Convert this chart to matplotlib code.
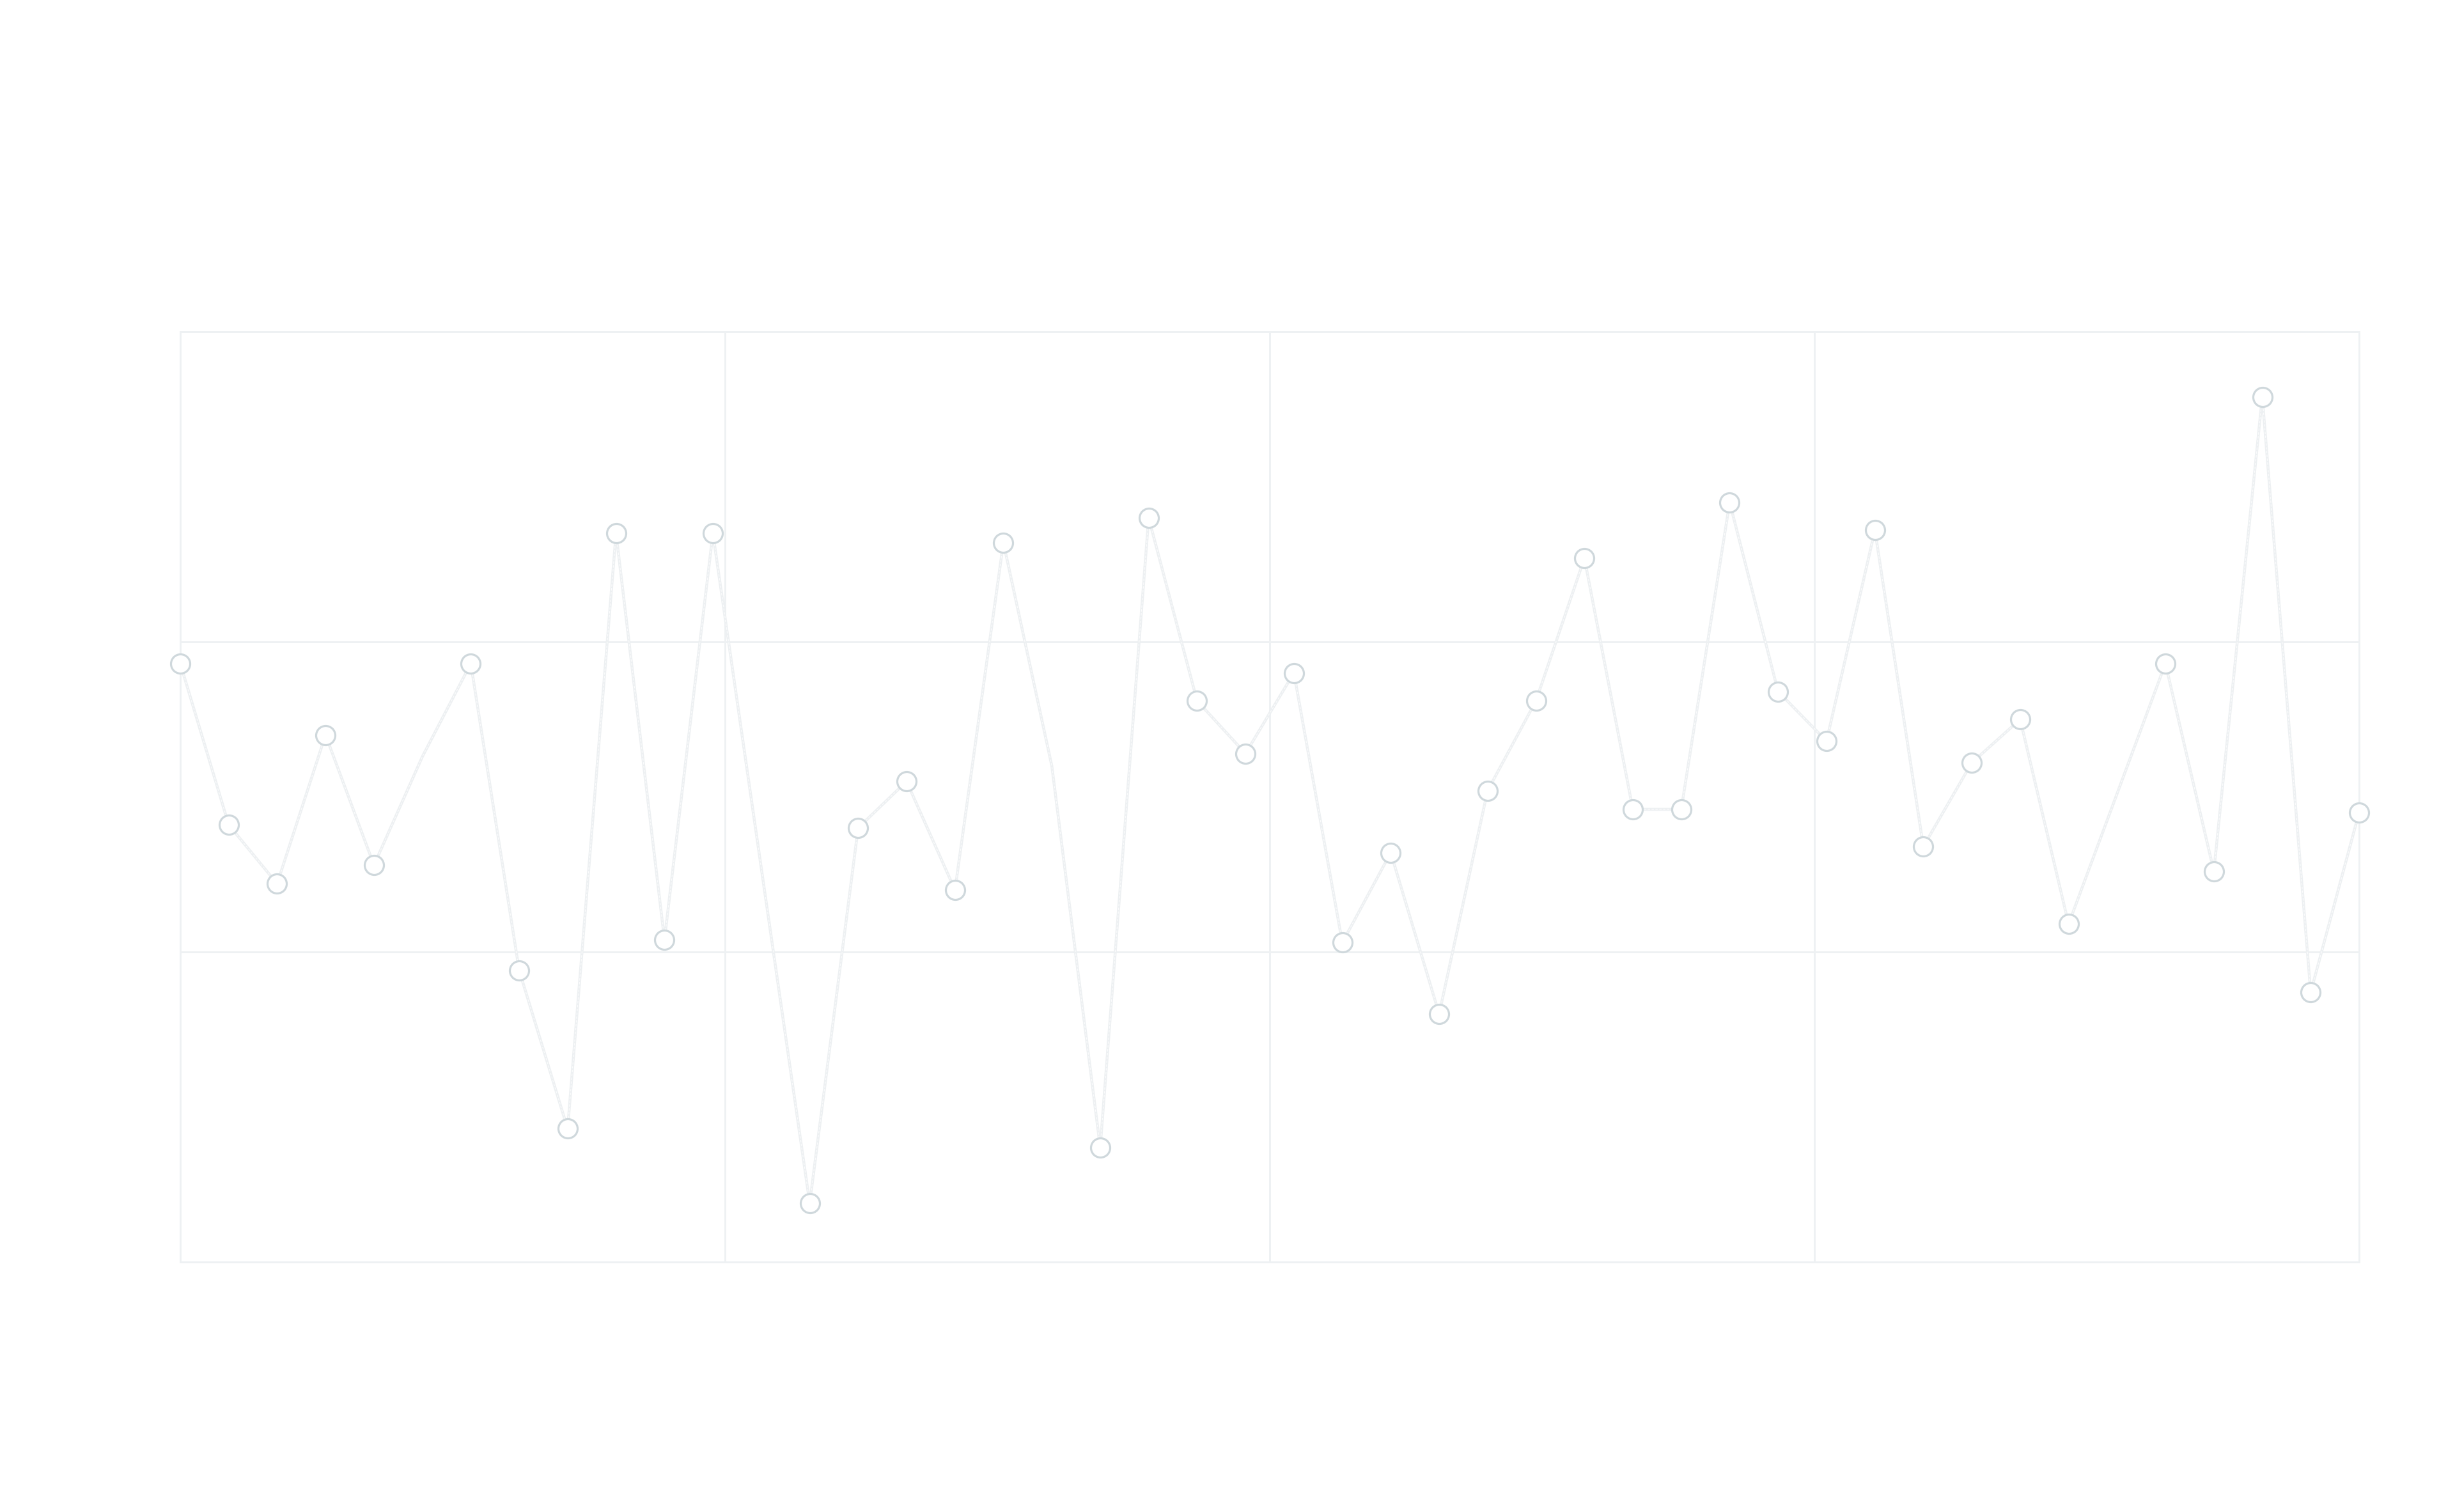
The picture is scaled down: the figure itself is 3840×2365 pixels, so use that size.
import matplotlib
matplotlib.use("Agg")
import matplotlib.pyplot as plt
import numpy as np

# Data (46 points on a category-like x axis)
x_index = list(range(46))
values = [193, 141, 122, 170, 128, 163, 193, 94, 43, 235,
          104, 235, 127, 19, 140, 155, 120, 232, 160, 37,
          240, 181, 164, 190, 103, 132, 80, 152, 181, 227,
          146, 146, 245, 184, 168, 236, 134, 161, 175, 109,
          151, 193, 126, 279, 87, 145]
# points drawn without a symbol in the reference
hidden_symbols = [5, 12, 18, 40]
x_grid = [0, 11.25, 22.5, 33.75, 45]
y_grid = [0, 100, 200, 300]

W, H, DPI = 3840, 2365, 100
fig = plt.figure(figsize=(W / DPI, H / DPI), dpi=DPI, facecolor="white")
ax = fig.add_axes([282 / W, 1 - 1974 / H, (3690 - 282) / W, (1974 - 519) / H])
ax.set_facecolor("white")

grid_color = "#eef1f3"
px = 72 / DPI  # points per pixel

ax.set_xlim(x_grid[0], x_grid[-1])
ax.set_ylim(y_grid[0], y_grid[-1])
ax.set_xticks(x_grid)
ax.set_yticks(y_grid)
ax.tick_params(length=0, labelbottom=False, labelleft=False)
ax.grid(True, color=grid_color, linewidth=3 * px, zorder=0)
for s in ax.spines.values():
    s.set_color(grid_color)
    s.set_linewidth(3 * px)

shown = [i for i in x_index if i not in hidden_symbols]

ax.plot(x_index, values, color="#edf0f2", linewidth=4.5 * px, zorder=2,
        solid_joinstyle="miter", clip_on=False)
ax.plot(x_index, values, color="white", linewidth=1.2 * px, zorder=2.1,
        linestyle=(0, (3, 2)), alpha=0.8, clip_on=False)
ax.plot([x_index[i] for i in shown], [values[i] for i in shown],
        linestyle="none", marker="o", markersize=30 * px,
        markerfacecolor="white", markeredgecolor="#cfd8dc",
        markeredgewidth=3.2 * px, zorder=3, clip_on=False)

fig.savefig("out.png", dpi=DPI, facecolor="white")
